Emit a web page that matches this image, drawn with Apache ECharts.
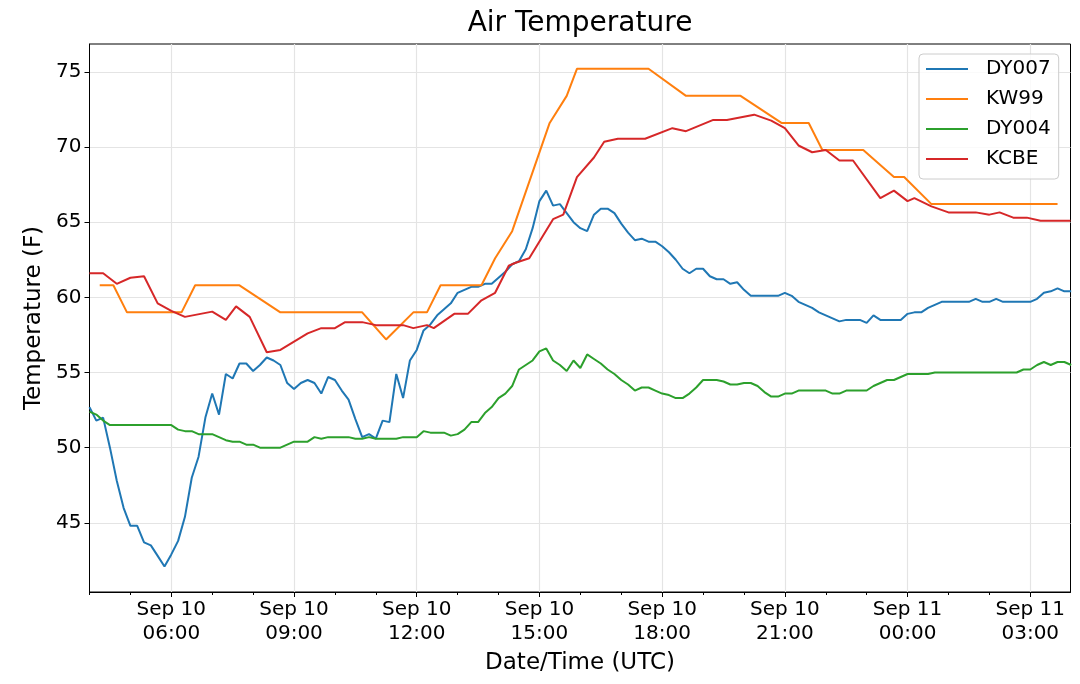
<!DOCTYPE html>
<html>
<head>
<meta charset="utf-8">
<script src="https://cdn.jsdelivr.net/npm/echarts@6/dist/echarts.min.js"></script>
<style>
html, body { margin: 0; padding: 0; background: #fff; }
#chart { width: 1080px; height: 684px; }
</style>
</head>
<body>
<div id="chart"></div>
<script>
var chartTitle = 'Air Temperature';
var xName = 'Date/Time (UTC)';
var yName = 'Temperature (F)';
var seriesNames = ['DY007', 'KW99', 'DY004', 'KCBE'];
var seriesColors = ['#1f77b4', '#ff7f0e', '#2ca02c', '#d62728'];

// x range and ticks ("DD HH:MM", Sep 2018, UTC)
var xStart = '10 04:00';
var xEnd = '11 03:59';
var majorTicks = ['10 06:00', '10 09:00', '10 12:00', '10 15:00', '10 18:00', '10 21:00', '11 00:00', '11 03:00'];
var yTicks = [45, 50, 55, 60, 65, 70, 75];
var yMin = 40.4;
var yMax = 76.85;

// DY007 and DY004 are 10 minute records starting at 04:00
var stepMinutes = 10;
var dy007 = [
  52.7, 51.8, 52.0, 50.0, 47.8, 46.0,
  44.8, 44.8, 43.7, 43.5, 42.8, 42.1,
  42.9, 43.8, 45.4, 48.0, 49.4, 52.0,
  53.6, 52.2, 54.9, 54.6, 55.6, 55.6,
  55.1, 55.5, 56.0, 55.8, 55.5, 54.3,
  53.9, 54.3, 54.5, 54.3, 53.6, 54.7,
  54.5, 53.8, 53.2, 51.9, 50.7, 50.9,
  50.6, 51.8, 51.7, 54.9, 53.3, 55.8,
  56.5, 57.8, 58.2, 58.8, 59.2, 59.6,
  60.3, 60.5, 60.7, 60.7, 60.9, 60.9,
  61.3, 61.7, 62.2, 62.4, 63.2, 64.6,
  66.4, 67.1, 66.1, 66.2, 65.6, 65.0,
  64.6, 64.4, 65.5, 65.9, 65.9, 65.6,
  64.9, 64.3, 63.8, 63.9, 63.7, 63.7,
  63.4, 63.0, 62.5, 61.9, 61.6, 61.9,
  61.9, 61.4, 61.2, 61.2, 60.9, 61.0,
  60.5, 60.1, 60.1, 60.1, 60.1, 60.1,
  60.3, 60.1, 59.7, 59.5, 59.3, 59.0,
  58.8, 58.6, 58.4, 58.5, 58.5, 58.5,
  58.3, 58.8, 58.5, 58.5, 58.5, 58.5,
  58.9, 59.0, 59.0, 59.3, 59.5, 59.7,
  59.7, 59.7, 59.7, 59.7, 59.9, 59.7,
  59.7, 59.9, 59.7, 59.7, 59.7, 59.7,
  59.7, 59.9, 60.3, 60.4, 60.6, 60.4,
  60.4
];
var dy004 = [
  52.4, 52.2, 51.8, 51.5, 51.5, 51.5,
  51.5, 51.5, 51.5, 51.5, 51.5, 51.5,
  51.5, 51.2, 51.1, 51.1, 50.9, 50.9,
  50.9, 50.7, 50.5, 50.4, 50.4, 50.2,
  50.2, 50.0, 50.0, 50.0, 50.0, 50.2,
  50.4, 50.4, 50.4, 50.7, 50.6, 50.7,
  50.7, 50.7, 50.7, 50.6, 50.6, 50.7,
  50.6, 50.6, 50.6, 50.6, 50.7, 50.7,
  50.7, 51.1, 51.0, 51.0, 51.0, 50.8,
  50.9, 51.2, 51.7, 51.7, 52.3, 52.7,
  53.3, 53.6, 54.1, 55.2, 55.5, 55.8,
  56.4, 56.6, 55.8, 55.5, 55.1, 55.8,
  55.3, 56.2, 55.9, 55.6, 55.2, 54.9,
  54.5, 54.2, 53.8, 54.0, 54.0, 53.8,
  53.6, 53.5, 53.3, 53.3, 53.6, 54.0,
  54.5, 54.5, 54.5, 54.4, 54.2, 54.2,
  54.3, 54.3, 54.1, 53.7, 53.4, 53.4,
  53.6, 53.6, 53.8, 53.8, 53.8, 53.8,
  53.8, 53.6, 53.6, 53.8, 53.8, 53.8,
  53.8, 54.1, 54.3, 54.5, 54.5, 54.7,
  54.9, 54.9, 54.9, 54.9, 55.0, 55.0,
  55.0, 55.0, 55.0, 55.0, 55.0, 55.0,
  55.0, 55.0, 55.0, 55.0, 55.0, 55.2,
  55.2, 55.5, 55.7, 55.5, 55.7, 55.7,
  55.5
];

// KW99 and KCBE report at irregular times
var kw99Times = [
  '10 04:15', '10 04:35', '10 04:55', '10 06:15', '10 06:35', '10 07:40',
  '10 08:40', '10 10:40', '10 11:15', '10 11:55', '10 12:15', '10 12:35',
  '10 13:35', '10 13:55', '10 14:20', '10 15:15', '10 15:40', '10 15:55',
  '10 17:40', '10 18:35', '10 19:55', '10 20:55', '10 21:35', '10 21:55',
  '10 22:55', '10 23:40', '10 23:55', '11 00:35', '11 03:40'
];
var kw99 = [
  60.8, 60.8, 59.0, 59.0, 60.8, 60.8,
  59.0, 59.0, 57.2, 59.0, 59.0, 60.8,
  60.8, 62.6, 64.4, 71.6, 73.4, 75.2,
  75.2, 73.4, 73.4, 71.6, 71.6, 69.8,
  69.8, 68.0, 68.0, 66.2, 66.2
];
var kcbeTimes = [
  '10 04:00', '10 04:20', '10 04:40', '10 05:00', '10 05:20', '10 05:40',
  '10 06:00', '10 06:20', '10 07:00', '10 07:20', '10 07:35', '10 07:55',
  '10 08:20', '10 08:40', '10 09:20', '10 09:40', '10 10:00', '10 10:15',
  '10 10:40', '10 11:00', '10 11:40', '10 11:55', '10 12:15', '10 12:25',
  '10 12:55', '10 13:15', '10 13:35', '10 13:55', '10 14:15', '10 14:25',
  '10 14:45', '10 15:20', '10 15:35', '10 15:55', '10 16:20', '10 16:35',
  '10 16:55', '10 17:35', '10 18:15', '10 18:35', '10 19:15', '10 19:35',
  '10 20:15', '10 20:40', '10 21:00', '10 21:20', '10 21:40', '10 22:00',
  '10 22:20', '10 22:40', '10 23:20', '10 23:40', '11 00:00', '11 00:10',
  '11 00:35', '11 01:00', '11 01:40', '11 02:00', '11 02:15', '11 02:35',
  '11 02:55', '11 03:15', '11 03:59'
];
var kcbe = [
  61.6, 61.6, 60.9, 61.3, 61.4, 59.6,
  59.1, 58.7, 59.05, 58.5, 59.4, 58.7,
  56.35, 56.5, 57.6, 57.95, 57.95, 58.35,
  58.35, 58.15, 58.15, 57.95, 58.15, 57.95,
  58.9, 58.9, 59.8, 60.3, 62.1, 62.3,
  62.6, 65.2, 65.5, 68.0, 69.3, 70.35,
  70.55, 70.55, 71.25, 71.05, 71.8, 71.8,
  72.15, 71.75, 71.25, 70.1, 69.65, 69.8,
  69.1, 69.1, 66.6, 67.1, 66.4, 66.6,
  66.05, 65.65, 65.65, 65.5, 65.65, 65.3,
  65.3, 65.1, 65.1
];

// x is measured in hours from Sep 10 00:00 UTC
function toHours(s) {
  var d = +s.slice(0, 2), h = +s.slice(3, 5), m = +s.slice(6, 8);
  return (d - 10) * 24 + h + m / 60;
}
function pad(n) {
  return n < 10 ? '0' + n : '' + n;
}
function regularPairs(start, values) {
  var t0 = toHours(start);
  return values.map(function(v, i) {
    return [t0 + i * stepMinutes / 60, v];
  });
}
function timedPairs(times, values) {
  return times.map(function(t, i) {
    return [toHours(t), values[i]];
  });
}
function hourLabel(v) {
  var total = Math.round(v * 60);
  var day = 10 + Math.floor(total / 1440);
  var rest = total % 1440;
  return 'Sep ' + day + '\n' + pad(Math.floor(rest / 60)) + ':' + pad(rest % 60);
}

var seriesData = [
  regularPairs(xStart, dy007),
  timedPairs(kw99Times, kw99),
  regularPairs(xStart, dy004),
  timedPairs(kcbeTimes, kcbe)
];

var minX = toHours(xStart);
var maxX = toHours(xEnd);
var majorValues = majorTicks.map(toHours);
var minorValues = [];
for (var h = Math.ceil(minX); h <= maxX; h++) {
  minorValues.push(h);
}

var font = 'DejaVu Sans';
var chart = echarts.init(document.getElementById('chart'));

chart.setOption({
  animation: false,
  backgroundColor: '#fff',
  textStyle: { fontFamily: font, color: '#000' },
  title: {
    text: chartTitle,
    left: 580,
    top: 10,
    padding: 0,
    textAlign: 'center',
    textStyle: { fontFamily: font, fontSize: 28, fontWeight: 'normal', color: '#000' }
  },
  legend: {
    orient: 'vertical',
    left: 919,
    top: 54,
    padding: [5, 8, 10, 7],
    itemWidth: 42,
    itemHeight: 20,
    itemGap: 10,
    icon: 'path://M0,0 L42,0 L42,2 L0,2 Z',
    borderColor: '#cccccc',
    borderWidth: 1,
    borderRadius: 4,
    backgroundColor: 'rgba(255,255,255,0.8)',
    textStyle: { fontFamily: font, fontSize: 20, color: '#000', lineHeight: 20, padding: [0, 0, 0, 13] },
    data: seriesNames
  },
  grid: {
    left: 89.5,
    right: 9.5,
    top: 44,
    bottom: 92,
    show: true,
    borderColor: '#000',
    borderWidth: 1,
    backgroundColor: 'transparent'
  },
  xAxis: [{
    type: 'value',
    min: minX,
    max: maxX,
    name: xName,
    nameLocation: 'middle',
    nameGap: 58,
    nameMoveOverlap: false,
    nameTextStyle: { fontFamily: font, fontSize: 23, color: '#000', lineHeight: 27 },
    axisLine: { show: true, onZero: false, lineStyle: { color: '#000', width: 1 } },
    axisTick: { show: true, customValues: majorValues, length: 5, lineStyle: { color: '#000', width: 1 } },
    axisLabel: {
      customValues: majorValues,
      margin: 6,
      fontFamily: font,
      fontSize: 20,
      lineHeight: 24,
      color: '#000',
      formatter: hourLabel
    },
    splitLine: { show: true, lineStyle: { color: '#e4e4e4', width: 1.2 } }
  }, {
    type: 'value',
    min: minX,
    max: maxX,
    position: 'bottom',
    axisLine: { show: false, onZero: false },
    axisTick: { show: true, customValues: minorValues, length: 3, lineStyle: { color: '#000', width: 1 } },
    axisLabel: { show: false },
    splitLine: { show: false }
  }],
  yAxis: {
    type: 'value',
    min: yMin,
    max: yMax,
    name: yName,
    nameLocation: 'middle',
    nameGap: 42,
    nameRotate: 90,
    nameMoveOverlap: false,
    nameTextStyle: { fontFamily: font, fontSize: 23, color: '#000', lineHeight: 27 },
    axisLine: { show: true, onZero: false, lineStyle: { color: '#000', width: 1 } },
    axisTick: { show: true, customValues: yTicks, length: 5, lineStyle: { color: '#000', width: 1 } },
    axisLabel: {
      customValues: yTicks,
      margin: 8,
      fontFamily: font,
      fontSize: 20,
      color: '#000',
      formatter: function(v) { return '' + Math.round(v); }
    },
    splitLine: { show: true, lineStyle: { color: '#e4e4e4', width: 1.2 } }
  },
  series: seriesNames.map(function(name, i) {
    return {
      name: name,
      type: 'line',
      xAxisIndex: 0,
      symbol: 'none',
      clip: true,
      lineStyle: { color: seriesColors[i], width: 2 },
      itemStyle: { color: seriesColors[i] },
      data: seriesData[i]
    };
  })
});
</script>
</body>
</html>
